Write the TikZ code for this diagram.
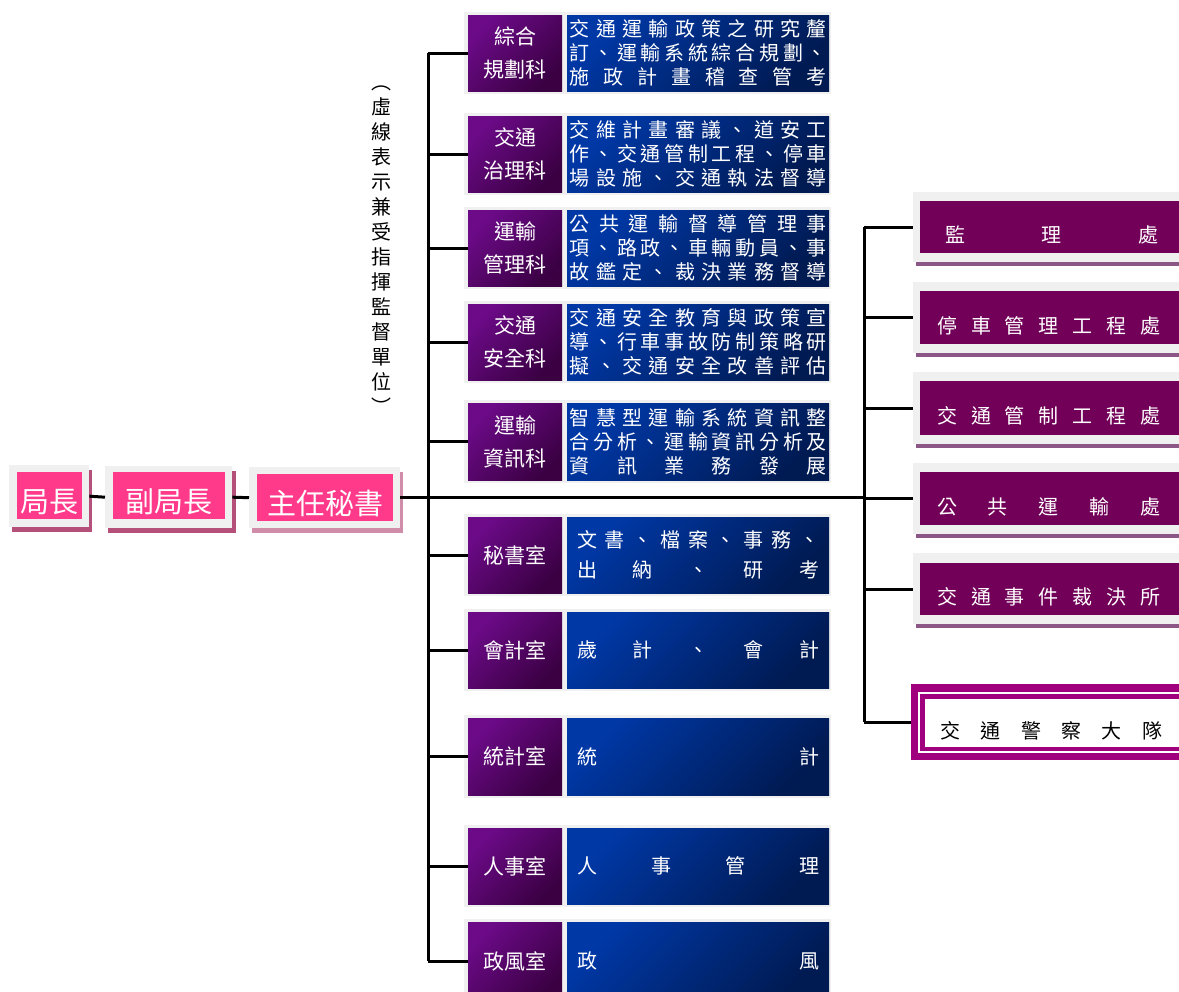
\documentclass[tikz,border=0pt]{standalone}
\usepackage{fontspec}
\setmainfont{Noto Sans CJK TC}
\makeatletter
\def\spreadtext#1#2{\hbox to #1{\sp@a#2\sp@end}}
\def\sp@end{\sp@end@}
\def\sp@a#1{#1\sp@b}
\def\sp@b#1{\ifx#1\sp@end\else\hfill#1\expandafter\sp@b\fi}
\makeatother
\newcommand\dsA[1]{\spreadtext{257pt}{#1}}
\newcommand\dsB[1]{\spreadtext{242pt}{#1}}
\definecolor{pinkbox}{HTML}{FF3A8A}
\definecolor{pinkshadow}{HTML}{B4507A}
\definecolor{pinkshadowl}{HTML}{D08CA8}
\definecolor{framegray}{HTML}{F0F0F0}
\definecolor{pua}{HTML}{6C0A88}
\definecolor{pub}{HTML}{3A0042}
\definecolor{bla}{HTML}{0038A6}
\definecolor{blb}{HTML}{001A52}
\definecolor{rpurple}{HTML}{720058}
\definecolor{rshadow}{HTML}{8C5686}
\definecolor{polmag}{HTML}{A0007E}
\begin{document}
\begin{tikzpicture}[x=1pt,y=-1pt,
  conn/.style={line width=3pt, black},
  gframe/.style={fill=framegray, draw=none, inner sep=0, anchor=north west},
  pinkb/.style={fill=pinkbox, draw=none, inner sep=0, anchor=north west},
  pinktext/.style={text=white, inner sep=0, font=\fontsize{29}{29}\selectfont},
  labbox/.style={inner sep=0, anchor=north west, minimum width=94pt, top color=pua, bottom color=pub, shading angle=45, text=white, align=center, font=\fontsize{21}{33}\selectfont},
  descbox/.style={inner sep=0, anchor=north west, minimum width=262pt, top color=bla, bottom color=blb, shading angle=45, text=white, align=center, font=\fontsize{20}{24}\selectfont},
  rbox/.style={fill=rpurple, draw=none, inner sep=0, anchor=north west, minimum width=270pt},
  rtext/.style={text=white, inner sep=0, anchor=west, font=\fontsize{20}{20}\selectfont},
]
\useasboundingbox (0,0) rectangle (1179,992);
\clip (0,0) rectangle (1179,992);

% ---------- left chain ----------
\fill[pinkshadow] (12,470) rectangle (92,532);
\node[gframe, minimum width=80pt, minimum height=62pt] (g1) at (9,465) {};
\node[pinkb, minimum width=65pt, minimum height=47pt] (p1) at (17,472) {};
\node[pinktext] (t1) at ([yshift=-6pt]p1.center) {局長};

\fill[pinkshadow] (108,471) rectangle (236,533);
\node[gframe, minimum width=127pt, minimum height=62pt] (g2) at (105,466) {};
\node[pinkb, minimum width=112pt, minimum height=47pt] (p2) at (113,472) {};
\node[pinktext] (t2) at ([yshift=-6pt]p2.center) {副局長};

\fill[pinkshadowl] (252,472) rectangle (403,533);
\node[gframe, minimum width=151pt, minimum height=61pt] (g3) at (249,467) {};
\node[pinkb, minimum width=136pt, minimum height=47pt] (p3) at (257,474) {};
\node[pinktext] (t3) at ([yshift=-6pt]p3.center) {主任秘書};

\draw[conn] (g1.east) -- (g2.west);
\draw[conn] (g2.east) -- (g3.west);

% ---------- trunk coordinates ----------
\coordinate (tk) at (428,0);
\coordinate (rk) at (864,0);

% ---------- middle column ----------
\newcommand\unitrow[5]{%
  \node[gframe, minimum width=367pt, minimum height=#3pt+6pt] (f#1) at (464,#2-3) {};
  \node[labbox, minimum height=#3pt] (l#1) at (468,#2) {#4};
  \node[descbox, minimum height=#3pt] (d#1) at (567,#2) {#5};
  \draw[conn] (l#1.west -| tk) -- (l#1.west);
}
\unitrow{1}{15}{76}{綜合\\規劃科}{\dsA{交通運輸政策之研究釐}\\\dsA{訂、運輸系統綜合規劃、}\\\dsA{施政計畫稽查管考}}
\unitrow{2}{116}{76}{交通\\治理科}{\dsA{交維計畫審議、道安工}\\\dsA{作、交通管制工程、停車}\\\dsA{場設施、交通執法督導}}
\unitrow{3}{210}{76}{運輸\\管理科}{\dsA{公共運輸督導管理事}\\\dsA{項、路政、車輛動員、事}\\\dsA{故鑑定、裁決業務督導}}
\unitrow{4}{304}{76}{交通\\安全科}{\dsA{交通安全教育與政策宣}\\\dsA{導、行車事故防制策略研}\\\dsA{擬、交通安全改善評估}}
\unitrow{5}{403}{77}{運輸\\資訊科}{\dsA{智慧型運輸系統資訊整}\\\dsA{合分析、運輸資訊分析及}\\\dsA{資訊業務發展}}
\unitrow{6}{517}{76}{秘書室}{\dsB{文書、檔案、事務、}\\[6pt]\dsB{出納、研考}}
\unitrow{7}{612}{76}{會計室}{\dsB{歲計、會計}}
\unitrow{8}{718}{77}{統計室}{\dsB{統計}}
\unitrow{9}{828}{76}{人事室}{\dsB{人事管理}}
\unitrow{10}{922}{78}{政風室}{\dsB{政風}}
\draw[conn] (tk |- l1.west) -- (tk |- l10.west);

% vertical note
\node[inner sep=0, align=center, font=\fontsize{20}{25}\selectfont] (vt) at (381,250)
  {︵\\虛\\線\\表\\示\\兼\\受\\指\\揮\\監\\督\\單\\位\\︶};

% ---------- right column ----------
\newcommand\rightbox[8]{%
  \fill[rshadow] (916,#3) rectangle (1190,#3+4);
  \node[gframe, minimum width=280pt, minimum height=#3pt-#2pt] (rf#1) at (913,#2) {};
  \node[rbox, minimum height=#5pt-#4pt] (rb#1) at (920,#4) {};
  \node[rtext] (rt#1) at ([yshift=-8pt]rb#1.center -| #6,0) {\spreadtext{#7pt}{#8}};
  \draw[conn] (rk |- rb#1.west) -- (rb#1.west -| rf#1.west);
}
\rightbox{1}{192}{262}{201}{253}{945}{213}{監理處}
\rightbox{2}{282}{353}{291}{344}{937}{223}{停車管理工程處}
\rightbox{3}{372}{444}{381}{435}{937}{223}{交通管制工程處}
\rightbox{4}{463}{534}{472}{525}{937}{223}{公共運輸處}
\rightbox{5}{553}{624}{563}{615}{937}{223}{交通事件裁決所}

% police
\node[fill=polmag, draw=none, inner sep=0, anchor=north west, minimum width=280pt, minimum height=76pt] (pol) at (911,684) {};
\draw[white, line width=2pt] (919,693) rectangle (1195,752);
\node[fill=white, draw=polmag, line width=2pt, inner sep=0, anchor=north west, minimum width=270pt, minimum height=50pt] (poli) at (923,697) {};
\node[inner sep=0, anchor=west, text=black, font=\fontsize{20}{20}\selectfont] (polt) at ([yshift=-8pt]poli.center -| 940,0) {\spreadtext{222pt}{交通警察大隊}};

\draw[conn] (g3.east) -- (rk |- g3.east);
\draw[conn] (rk |- rb1.west) -- (rk |- pol.west);
\draw[conn] (rk |- pol.west) -- (pol.west);
\end{tikzpicture}
\end{document}
